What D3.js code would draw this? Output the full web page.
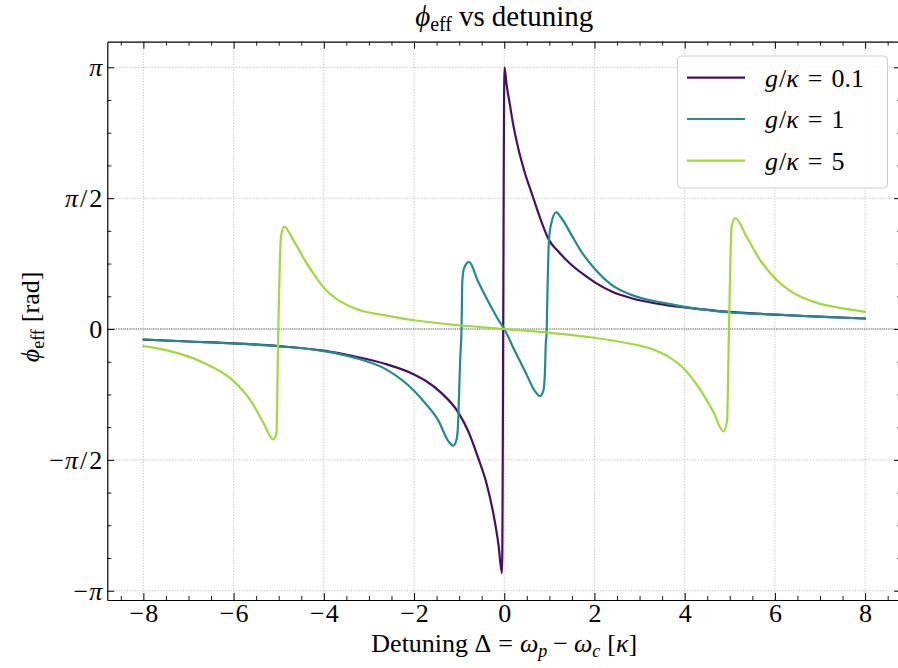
<!DOCTYPE html>
<html>
<head>
<meta charset="utf-8">
<script src="https://cdn.jsdelivr.net/npm/d3@7"></script>
<style>
  body { margin: 0; background: #fff; }
  svg text { font-family: "Liberation Serif", "Times New Roman", "DejaVu Serif", serif; fill: #000; }
</style>
</head>
<body>
<svg id="chart" width="898" height="668"></svg>
<script>
// Effective phase versus probe detuning, for three coupling strengths.
const detuningWeak = [-8, -7, -6, -5, -4, -3.35, -2.6, -2, -1.76, -1.39, -1.02, -0.8, -0.58, -0.39, -0.24, -0.13, -0.05,
  0.005, 0.053, 0.126, 0.2, 0.31, 0.46, 0.64, 0.83, 0.99, 1.2, 1.45, 1.72, 2.01, 2.38, 2.82, 3.56, 4, 5, 6, 7, 8];
const phaseWeak = [-0.126, -0.15, -0.172, -0.205, -0.26, -0.325, -0.425, -0.545, -0.615, -0.77, -1.0, -1.225, -1.545, -1.86, -2.22, -2.58, -2.93,
  3.14, 2.93, 2.69, 2.45, 2.17, 1.87, 1.58, 1.28, 1.07, 0.93, 0.79, 0.67, 0.56, 0.45, 0.37, 0.29, 0.26, 0.205, 0.172, 0.148, 0.126];

const detuningMid = [-8, -7, -6, -5, -4, -3.35, -2.6, -2, -1.76, -1.46, -1.24, -1.13, -1.055, -1.02, -1.0, -0.975, -0.945,
  -0.93, -0.89, -0.78, -0.58, -0.355, -0.13, 0, 0.237, 0.46, 0.68, 0.79, 0.865, 0.9, 0.92, 0.94, 0.96, 0.99, 1.035,
  1.15, 1.27, 1.49, 1.72, 2.01, 2.38, 2.82, 3.56, 4, 5, 6, 7, 8];
const phaseMid = [-0.126, -0.15, -0.174, -0.206, -0.266, -0.34, -0.49, -0.74, -0.885, -1.1, -1.345, -1.4, -1.32, -1.1, -0.745, -0.345, 0.05,
  0.57, 0.73, 0.805, 0.57, 0.33, 0.11, 0, -0.266, -0.506, -0.745, -0.805, -0.745, -0.545, -0.186, -0.03, 0.5, 1.05, 1.25,
  1.4, 1.33, 1.13, 0.92, 0.72, 0.53, 0.41, 0.31, 0.266, 0.2, 0.174, 0.146, 0.126];

const detuningStrong = [-8, -7.41, -6.67, -6, -5.64, -5.34, -5.12, -5.05, -5.01, -4.95, -4.88, -4.68, -4.38, -4, -3.35, -2.61,
  -2, -1, 0, 1, 2, 2.68, 3.3, 3.6, 4, 4.34, 4.64, 4.86, 4.94, 4.98, 5.04, 5.12, 5.37, 5.67, 6, 6.41, 6.93, 7.44, 8];
const phaseStrong = [-0.206, -0.266, -0.405, -0.625, -0.845, -1.125, -1.325, -1.245, -0.04, 1.11, 1.23, 1.07, 0.79, 0.495, 0.254, 0.16,
  0.105, 0.045, 0, -0.045, -0.105, -0.165, -0.245, -0.32, -0.485, -0.725, -1.0, -1.23, -1.1, -0.045, 1.23, 1.33, 1.11, 0.83, 0.61, 0.434, 0.314, 0.254, 0.206];

const seriesLabels = ["0.1", "1", "5"];
const seriesColors = ["#45105f", "#238a8d", "#9fda3a"];

const xTickValues = [-8, -6, -4, -2, 0, 2, 4, 6, 8];
const xTickLabels = ["−8", "−6", "−4", "−2", "0", "2", "4", "6", "8"];
const yTickValues = [-Math.PI, -Math.PI / 2, 0, Math.PI / 2, Math.PI];
const yTickLabels = ["−π", "−π/2", "0", "π/2", "π"];

const series = [
  { label: seriesLabels[0], color: seriesColors[0], pts: detuningWeak.map((d, i) => [d, phaseWeak[i]]) },
  { label: seriesLabels[1], color: seriesColors[1], pts: detuningMid.map((d, i) => [d, phaseMid[i]]) },
  { label: seriesLabels[2], color: seriesColors[2], pts: detuningStrong.map((d, i) => [d, phaseStrong[i]]) }
];

const svg = d3.select("#chart");
const plotLeft = 107.3, plotRight = 901.2, plotTop = 41.7, plotBottom = 600;
const fontSize = 26;

const x = d3.scaleLinear().domain([-8.8, 8.8]).range([plotLeft, plotRight]);
const y = d3.scaleLinear().domain([-3.253, 3.449]).range([plotBottom, plotTop]);

// Grid at major ticks
const grid = svg.append("g").attr("stroke", "#b4b4b4").attr("stroke-width", 0.8).attr("stroke-dasharray", "1.2,1.6");
grid.selectAll("line.gx").data(xTickValues).join("line").attr("class", "gx")
  .attr("x1", d => x(d)).attr("x2", d => x(d)).attr("y1", plotTop).attr("y2", plotBottom);
grid.selectAll("line.gy").data(yTickValues).join("line").attr("class", "gy")
  .attr("x1", plotLeft).attr("x2", plotRight).attr("y1", d => y(d)).attr("y2", d => y(d));

// Zero reference line
svg.append("line")
  .attr("x1", plotLeft).attr("x2", plotRight).attr("y1", y(0)).attr("y2", y(0))
  .attr("stroke", "#222").attr("stroke-width", 0.8).attr("stroke-dasharray", "1,1.2");

// Curves
const line = d3.line().x(d => x(d[0])).y(d => y(d[1])).curve(d3.curveMonotoneX);
svg.append("g").selectAll("path").data(series).join("path")
  .attr("d", d => line(d.pts))
  .attr("fill", "none")
  .attr("stroke", d => d.color)
  .attr("stroke-width", 2.2)
  .attr("stroke-linejoin", "round")
  .attr("stroke-linecap", "round");

// Axes with inward ticks
const xMinor = d3.range(-8.5, 8.51, 0.5).filter(v => Math.abs(v % 2) > 1e-9);
const yMinor = d3.range(-8, 9).map(k => k * Math.PI / 8).filter((v, i) => (i % 4) !== 0);

function styleAxis(g) {
  g.attr("font-family", null);
  g.select(".domain").attr("stroke", "#000").attr("stroke-width", 1.2);
  g.selectAll(".tick line").attr("stroke", "#000").attr("stroke-width", 1);
}
function minorStyle(g) {
  g.select(".domain").remove();
  g.selectAll(".tick line").attr("stroke", "#000").attr("stroke-width", 0.9);
}
// Set π in italic and give the slash a little room
function mathLabel(sel) {
  sel.each(function () {
    const t = d3.select(this);
    const s = t.text();
    t.text(null);
    [...s].forEach((ch, k) => {
      const sp = t.append("tspan").text(ch);
      if (ch === "π") sp.attr("font-style", "italic");
      if (k === 1 && s[0] === "−") sp.attr("dx", 1);
      if (ch === "/" || (k > 0 && s[k - 1] === "/")) sp.attr("dx", 2);
    });
  });
}

const xAxisB = svg.append("g").attr("transform", `translate(0,${plotBottom})`)
  .call(d3.axisBottom(x).tickValues(xTickValues).tickFormat((d, i) => xTickLabels[i])
    .tickSizeInner(-7).tickSizeOuter(0).tickPadding(4));
styleAxis(xAxisB);
xAxisB.selectAll("text").attr("font-size", fontSize).call(mathLabel);
svg.append("g").attr("transform", `translate(0,${plotBottom})`)
  .call(d3.axisBottom(x).tickValues(xMinor).tickFormat("").tickSizeInner(-4).tickSizeOuter(0))
  .call(minorStyle);

const xAxisT = svg.append("g").attr("transform", `translate(0,${plotTop})`)
  .call(d3.axisTop(x).tickValues(xTickValues).tickFormat("").tickSizeInner(-7).tickSizeOuter(0));
styleAxis(xAxisT);
svg.append("g").attr("transform", `translate(0,${plotTop})`)
  .call(d3.axisTop(x).tickValues(xMinor).tickFormat("").tickSizeInner(-4).tickSizeOuter(0))
  .call(minorStyle);

const yAxisL = svg.append("g").attr("transform", `translate(${plotLeft},0)`)
  .call(d3.axisLeft(y).tickValues(yTickValues).tickFormat((d, i) => yTickLabels[i])
    .tickSizeInner(-7).tickSizeOuter(0).tickPadding(5));
styleAxis(yAxisL);
yAxisL.selectAll("text").attr("font-size", fontSize).call(mathLabel);
svg.append("g").attr("transform", `translate(${plotLeft},0)`)
  .call(d3.axisLeft(y).tickValues(yMinor).tickFormat("").tickSizeInner(-4).tickSizeOuter(0))
  .call(minorStyle);

const yAxisR = svg.append("g").attr("transform", `translate(${plotRight},0)`)
  .call(d3.axisRight(y).tickValues(yTickValues).tickFormat("").tickSizeInner(-7).tickSizeOuter(0));
styleAxis(yAxisR);
svg.append("g").attr("transform", `translate(${plotRight},0)`)
  .call(d3.axisRight(y).tickValues(yMinor).tickFormat("").tickSizeInner(-4).tickSizeOuter(0))
  .call(minorStyle);

// Title
const title = svg.append("text").attr("x", (plotLeft + plotRight) / 2).attr("y", 26)
  .attr("text-anchor", "middle").attr("font-size", 29);
title.append("tspan").attr("font-style", "italic").text("ϕ");
title.append("tspan").attr("font-size", 20).attr("dy", 5).text("eff");
title.append("tspan").attr("dy", -5).attr("dx", 7).text("vs");
title.append("tspan").attr("dx", 7).text("detuning");

// X label
const xl = svg.append("text").attr("x", (plotLeft + plotRight) / 2).attr("y", 652)
  .attr("text-anchor", "middle").attr("font-size", fontSize);
xl.append("tspan").text("Detuning Δ");
xl.append("tspan").attr("dx", 7).text("=");
xl.append("tspan").attr("dx", 7).attr("font-style", "italic").text("ω");
xl.append("tspan").attr("font-style", "italic").attr("font-size", 18).attr("dy", 5).text("p");
xl.append("tspan").attr("dy", -5).attr("dx", 6).text("−");
xl.append("tspan").attr("dx", 6).attr("font-style", "italic").text("ω");
xl.append("tspan").attr("font-style", "italic").attr("font-size", 18).attr("dy", 5).text("c");
xl.append("tspan").attr("dy", -5).attr("dx", 7).text("[");
xl.append("tspan").attr("font-style", "italic").text("κ");
xl.append("tspan").text("]");

// Y label
const yl = svg.append("text").attr("transform", "translate(39,317) rotate(-90)")
  .attr("text-anchor", "middle").attr("font-size", fontSize);
yl.append("tspan").attr("font-style", "italic").text("ϕ");
yl.append("tspan").attr("font-size", 18).attr("dy", 5).text("eff");
yl.append("tspan").attr("dy", -5).attr("dx", 7).text("[rad]");

// Legend
const lg = svg.append("g");
lg.append("rect").attr("x", 677.5).attr("y", 56).attr("width", 210).attr("height", 132).attr("rx", 4)
  .attr("fill", "#fff").attr("fill-opacity", 0.85).attr("stroke", "#cfcfcf").attr("stroke-width", 1);
const rowY = [77.7, 119, 160.7];
series.forEach((s, i) => {
  lg.append("line").attr("x1", 687).attr("x2", 745).attr("y1", rowY[i]).attr("y2", rowY[i])
    .attr("stroke", s.color).attr("stroke-width", 2.2);
  const t = lg.append("text").attr("x", 765).attr("y", rowY[i] + 9).attr("font-size", fontSize);
  t.append("tspan").attr("font-style", "italic").text("g");
  t.append("tspan").attr("dx", 1).text("/");
  t.append("tspan").attr("font-style", "italic").text("κ");
  t.append("tspan").attr("dx", 9).text("=");
  t.append("tspan").attr("dx", 9).text(s.label);
});
</script>
</body>
</html>
